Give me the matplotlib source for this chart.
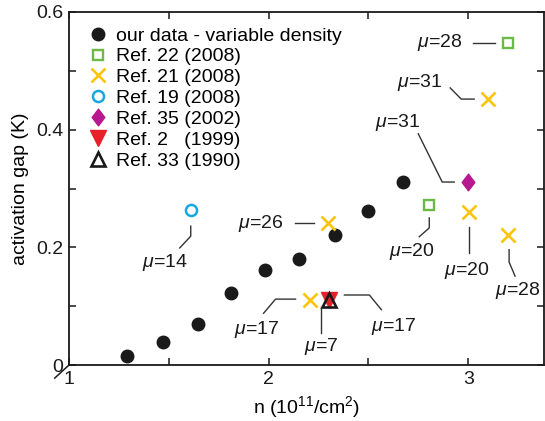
import matplotlib
matplotlib.use("Agg")
import matplotlib.pyplot as plt
from matplotlib.lines import Line2D
from matplotlib.path import Path

plt.rcParams['font.family'] = ['Liberation Sans', 'DejaVu Sans']
plt.rcParams['mathtext.fontset'] = 'custom'
plt.rcParams['mathtext.rm'] = 'Liberation Sans'
plt.rcParams['mathtext.it'] = 'Liberation Sans:italic'

# ---- data ----
our_n = [1.29, 1.47, 1.645, 1.81, 1.98, 2.15, 2.335, 2.50, 2.675]
our_gap = [0.015, 0.039, 0.070, 0.122, 0.162, 0.180, 0.221, 0.262, 0.311]

ref22_n = [3.20, 2.805]
ref22_gap = [0.548, 0.272]

ref21_n = [3.10, 2.30, 3.005, 3.20, 2.205]
ref21_gap = [0.452, 0.241, 0.260, 0.221, 0.110]

ref19_n = [1.61]
ref19_gap = [0.264]

ref35_n = [3.00]
ref35_gap = [0.311]

ref2_n = [2.305]
ref2_gap = [0.110]

ref33_n = [2.305]
ref33_gap = [0.110]

legend_labels = ["our data - variable density", "Ref. 22 (2008)", "Ref. 21 (2008)",
                 "Ref. 19 (2008)", "Ref. 35 (2002)", "Ref. 2   (1999)", "Ref. 33 (1990)"]

# mobility annotations: label, text position, leader polyline
mu_labels = ["28", "31", "31", "26", "14", "17", "7", "17", "20", "20", "28"]
mu_text_xy = [(2.855, 0.548), (2.755, 0.480), (2.648, 0.413), (1.96, 0.241),
              (1.48, 0.174), (1.94, 0.060), (2.265, 0.031), (2.625, 0.066),
              (2.715, 0.193), (2.995, 0.160), (3.25, 0.126)]
mu_leaders = [
    ([3.025, 3.135], [0.548, 0.548]),
    ([2.91, 2.965, 3.03], [0.471, 0.452, 0.452]),
    ([2.75, 2.87, 2.93], [0.393, 0.311, 0.311]),
    ([2.13, 2.23], [0.241, 0.241]),
    ([1.61, 1.61, 1.555], [0.236, 0.219, 0.199]),
    ([1.975, 2.035, 2.135], [0.088, 0.112, 0.112]),
    ([2.265, 2.265], [0.099, 0.054]),
    ([2.38, 2.505, 2.565], [0.119, 0.119, 0.094]),
    ([2.805, 2.805, 2.755], [0.250, 0.233, 0.218]),
    ([3.005, 3.005], [0.235, 0.190]),
    ([3.205, 3.205, 3.235], [0.196, 0.175, 0.151]),
]

c_green = '#6cb944'
c_yellow = '#fcc40c'
c_blue = '#1ba6e2'
c_magenta = '#b8188f'
c_red = '#e8202a'
c_black = '#1a1a1a'

diamond = Path([(0, 1), (0.76, 0), (0, -1), (-0.76, 0), (0, 1)],
               [Path.MOVETO, Path.LINETO, Path.LINETO, Path.LINETO, Path.CLOSEPOLY])

FS = 14

fig = plt.figure(figsize=(5.45, 4.21), dpi=100)
ax = fig.add_axes([0.1266, 0.133, 0.8716, 0.8385])

ax.plot(our_n, our_gap, 'o', color=c_black, ms=9, ls='none', label=legend_labels[0])
ax.plot(ref22_n, ref22_gap, 's', mfc='none', mec=c_green, mew=1.7, ms=7.5, ls='none', label=legend_labels[1])
ax.plot(ref21_n, ref21_gap, 'x', color=c_yellow, mew=1.9, ms=9.5, ls='none', label=legend_labels[2])
ax.plot(ref19_n, ref19_gap, 'o', mfc='none', mec=c_blue, mew=1.8, ms=8, ls='none', label=legend_labels[3])
ax.plot(ref35_n, ref35_gap, marker=diamond, color=c_magenta, ms=12, ls='none', label=legend_labels[4])
ax.plot(ref2_n, ref2_gap, 'v', color=c_red, ms=11, ls='none', label=legend_labels[5])
ax.plot(ref33_n, ref33_gap, '^', mfc='none', mec=c_black, mew=1.9, ms=10.5, ls='none', label=legend_labels[6])

for lab, (tx, ty), (lx, ly) in zip(mu_labels, mu_text_xy, mu_leaders):
    ax.text(tx, ty, r'$\mu$=' + lab, fontsize=FS, ha='center', va='center', color=c_black)
    ax.plot(lx, ly, color='#333333', lw=1.0)

ax.set_xlim(1, 3.38)
ax.set_ylim(0, 0.6)
ax.set_xticks([1, 1.5, 2, 2.5, 3])
ax.set_xticklabels(['1', '', '2', '', '3'])
ax.set_yticks([0, 0.1, 0.2, 0.3, 0.4, 0.5, 0.6])
ax.set_yticklabels(['0', '', '0.2', '', '0.4', '', '0.6'])
ax.tick_params(direction='in', length=5, width=1.1, top=True, right=True,
               labelsize=FS, pad=4, colors=c_black)
for s in ax.spines.values():
    s.set_linewidth(1.3)
    s.set_color(c_black)

ax.set_xlabel(r'n (10$^{11}$/cm$^{2}$)', fontsize=FS, labelpad=5)
ax.set_ylabel('activation gap (K)', fontsize=FS, labelpad=5)

# axis break mark
ax.add_line(Line2D([-0.03, 0.0], [-0.037, 0.0], transform=ax.transAxes, color=c_black,
                   lw=1.1, clip_on=False))

ax.legend(loc='upper left', bbox_to_anchor=(0.012, 0.996), frameon=False, fontsize=FS,
          handlelength=1.0, handletextpad=0.43, labelspacing=0.165, borderaxespad=0.25,
          borderpad=0.45)

fig.savefig('out.png', dpi=100)
